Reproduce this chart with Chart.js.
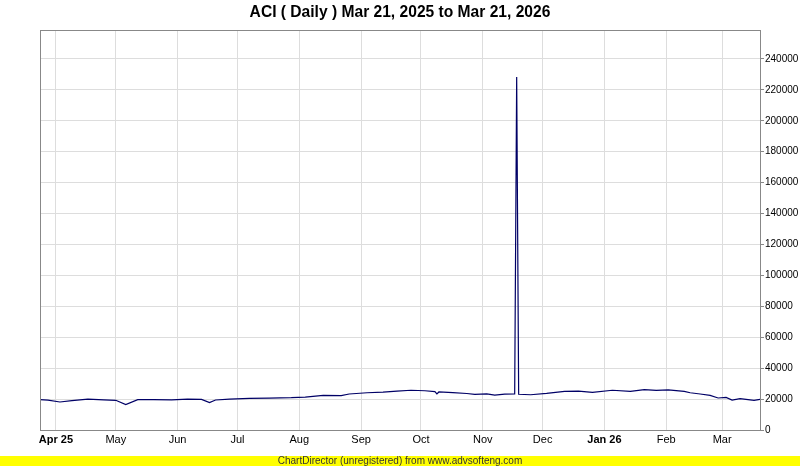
<!DOCTYPE html>
<html>
<head>
<meta charset="utf-8">
<script src="https://cdn.jsdelivr.net/npm/chart.js@4/dist/chart.umd.min.js"></script>
<style>
  html, body { margin: 0; padding: 0; background: #fff; }
  #wrap { width: 800px; height: 466px; position: relative; }
</style>
</head>
<body>
<div id="wrap"><canvas id="aciChart" width="800" height="466"></canvas></div>
<script>
const chartTitle = 'ACI ( Daily ) Mar 21, 2025 to Mar 21, 2026';
const footerText = 'ChartDirector (unregistered) from www.advsofteng.com';

// trading dates and closing values
const dates = [
  '2025-03-24','2025-03-28','2025-04-03','2025-04-09','2025-04-17','2025-04-25',
  '2025-05-01','2025-05-06','2025-05-12','2025-05-20','2025-05-29','2025-06-06',
  '2025-06-13','2025-06-17','2025-06-20','2025-06-27','2025-07-07','2025-07-17',
  '2025-07-28','2025-08-04','2025-08-13','2025-08-22','2025-08-26','2025-09-04',
  '2025-09-12','2025-09-19','2025-09-26','2025-10-03','2025-10-08','2025-10-09',
  '2025-10-10','2025-10-17','2025-10-24','2025-10-28','2025-11-03','2025-11-07',
  '2025-11-12','2025-11-17','2025-11-18','2025-11-19','2025-11-25','2025-12-03',
  '2025-12-12','2025-12-19','2025-12-26','2026-01-05','2026-01-14','2026-01-21',
  '2026-01-27','2026-02-02','2026-02-10','2026-02-13','2026-02-18','2026-02-23',
  '2026-02-27','2026-03-03','2026-03-06','2026-03-10','2026-03-13','2026-03-17',
  '2026-03-20'
];
const values = [
  19600, 19300, 18100, 19000, 20000, 19500,
  19200, 16400, 19600, 19700, 19500, 20000,
  19800, 17700, 19400, 20000, 20500, 20600,
  20900, 21300, 22400, 22200, 23300, 24100,
  24500, 25200, 25700, 25400, 24800, 23300,
  24600, 24200, 23600, 23100, 23400, 22600,
  23200, 23300, 228300, 23100, 22800, 23700,
  25000, 25200, 24400, 25700, 25000, 26100,
  25600, 25900, 25000, 24100, 23300, 22400,
  20700, 21100, 19400, 20300, 19800, 19200,
  19800
];

const monthTicks = ['2025-04-01','2025-05-01','2025-06-01','2025-07-01','2025-08-01','2025-09-01',
  '2025-10-01','2025-11-01','2025-12-01','2026-01-01','2026-02-01','2026-03-01'];
const monthLabels = ['Apr 25','May','Jun','Jul','Aug','Sep','Oct','Nov','Dec','Jan 26','Feb','Mar'];
const boldLabels = ['Apr 25','Jan 26'];

const yTicks = [0, 20000, 40000, 60000, 80000, 100000, 120000, 140000, 160000, 180000, 200000, 220000, 240000];
const yMax = 258700;

const startDay = Date.UTC(2025, 2, 24);
const endDay = Date.UTC(2026, 2, 20);
function dayNum(s){
  const p = s.split('-');
  return (Date.UTC(+p[0], +p[1]-1, +p[2]) - startDay) / 86400000;
}
const points = dates.map((d, i) => ({ x: dayNum(d), y: values[i] }));
const tickDays = monthTicks.map(dayNum);

const frame = {
  id: 'frame',
  beforeDraw(chart){
    const c = chart.ctx;
    c.save();
    c.fillStyle = '#fff';
    c.fillRect(0, 0, chart.width, chart.height);
    c.restore();
  },
  afterDraw(chart){
    const c = chart.ctx;
    const a = chart.chartArea;
    c.save();
    c.strokeStyle = '#888';
    c.lineWidth = 1;
    c.strokeRect(Math.round(a.left) + 0.5, Math.round(a.top) + 0.5,
      Math.round(a.right - a.left), Math.round(a.bottom - a.top));
    // title
    c.fillStyle = '#000';
    c.font = 'bold 15.6px "Liberation Sans", Arial, sans-serif';
    c.textAlign = 'center';
    c.textBaseline = 'middle';
    c.fillText(chartTitle, 400, 13);
    // footer band
    c.fillStyle = '#ffff00';
    c.fillRect(0, 456, chart.width, 10);
    c.fillStyle = '#333';
    c.font = '10px "Liberation Sans", Arial, sans-serif';
    c.fillText(footerText, 400, 461);
    c.restore();
  }
};

const ctx = document.getElementById('aciChart').getContext('2d');
new Chart(ctx, {
  type: 'line',
  data: {
    datasets: [{
      label: 'ACI',
      data: points,
      borderColor: '#000066',
      borderWidth: 1.2,
      pointRadius: 0,
      tension: 0,
      fill: false
    }]
  },
  options: {
    responsive: false,
    animation: false,
    layout: { padding: { top: 30, left: 40, right: 0, bottom: 10 } },
    plugins: {
      legend: { display: false },
      tooltip: { enabled: false },
      title: { display: false }
    },
    scales: {
      x: {
        type: 'linear',
        min: 0,
        max: (endDay - startDay) / 86400000,
        afterBuildTicks: s => { s.ticks = tickDays.map(v => ({ value: v })); },
        afterFit: s => { s.height = 26; },
        grid: { color: '#dddddd', drawTicks: false },
        border: { color: '#888', width: 1 },
        ticks: {
          autoSkip: false,
          maxRotation: 0,
          padding: 3,
          color: '#000',
          callback: (v, i) => monthLabels[i],
          font: c => ({
            family: '"Liberation Sans", Arial, sans-serif',
            size: 11,
            weight: boldLabels.includes(monthLabels[c.index]) ? 'bold' : 'normal'
          })
        }
      },
      y: {
        position: 'right',
        min: 0,
        max: yMax,
        afterBuildTicks: s => { s.ticks = yTicks.map(v => ({ value: v })); },
        afterFit: s => { s.width = 40; },
        grid: { color: '#dddddd', tickLength: 4, tickColor: '#888' },
        border: { color: '#888', width: 1 },
        ticks: {
          autoSkip: false,
          padding: 1,
          color: '#000',
          font: { family: '"Liberation Sans", Arial, sans-serif', size: 10 },
          callback: v => String(v)
        }
      }
    }
  },
  plugins: [frame]
});
</script>
</body>
</html>
